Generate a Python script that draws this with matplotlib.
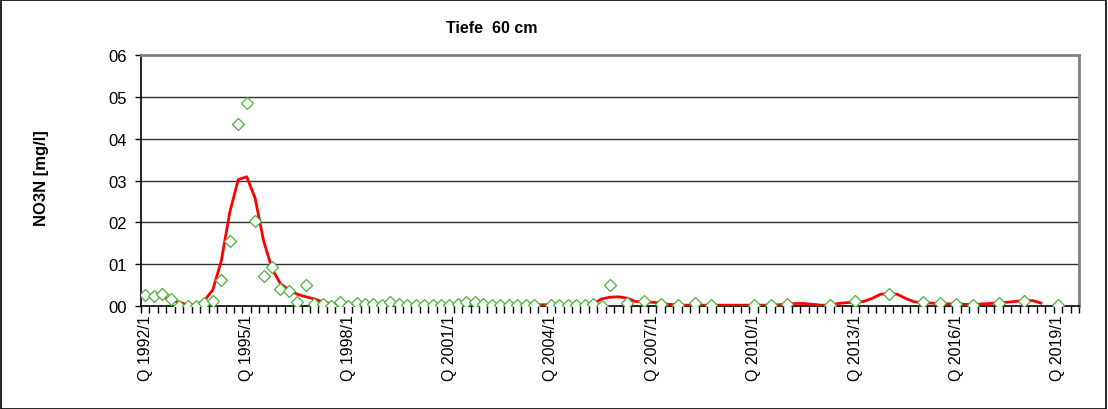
import numpy as np
import matplotlib
matplotlib.use("Agg")
import matplotlib.pyplot as plt
from matplotlib.patches import Rectangle

plt.rcParams['font.family'] = ['Liberation Sans', 'DejaVu Sans']

# Quartale 1992/1 .. 2019/3
quartale = [f"{j}/{q}" for j in range(1992, 2020) for q in range(1, 5)][:111]

# Messwerte NO3N [mg/l] (None = kein Wert)
mess = [0.026, 0.025, 0.029, 0.017, 0.001, 0.001, 0.001, 0.006, 0.011, 0.061,
        0.156, 0.436, 0.485, 0.203, 0.071, 0.094, 0.041, 0.035, 0.009, 0.051,
        0.005, 0.005, 0.001, 0.009, 0.001, 0.007, 0.005, 0.005, 0.003, 0.010,
        0.005, 0.003, 0.003, 0.003, 0.003, 0.003, 0.003, 0.005, 0.010, 0.010,
        0.005, 0.003, 0.003, 0.003, 0.003, 0.002, 0.002, None, 0.002, 0.002,
        0.002, 0.002, 0.002, 0.005, 0.001, 0.050, None, 0.006, None, 0.013,
        None, 0.004, None, 0.002, None, 0.006, None, 0.002, None, None,
        None, None, 0.002, None, 0.002, None, 0.005, None, None, None,
        None, 0.002, None, None, 0.011, None, None, None, 0.028, None,
        None, None, 0.009, None, 0.006, None, 0.004, None, 0.002, None,
        None, 0.006, None, None, 0.011, None, None, None, 0.002, None, None]

# geglaettete Kurve
trend = [None, None, 0.024, 0.014, 0.009, 0.003, 0.003, 0.013, 0.039, 0.108,
         0.224, 0.302, 0.309, 0.258, 0.156, 0.089, 0.053, 0.039, 0.028, 0.022,
         0.017, 0.010, 0.005, 0.004, 0.003, 0.003, 0.003, 0.003, 0.003, 0.003,
         0.003, 0.003, 0.003, 0.003, 0.003, 0.003, 0.003, 0.003, 0.003, 0.003,
         0.003, 0.003, 0.003, 0.003, 0.003, 0.003, 0.003, 0.003, 0.003, 0.003,
         0.003, 0.003, 0.003, 0.005, 0.017, 0.021, 0.022, 0.019, 0.011, 0.010,
         0.009, 0.007, 0.004, 0.003, 0.002, 0.002, 0.002, 0.002, 0.002, 0.002,
         0.002, 0.002, 0.002, 0.002, 0.002, 0.003, 0.005, 0.006, 0.006, 0.004,
         0.002, 0.002, 0.006, 0.008, 0.009, 0.011, 0.018, 0.028, 0.030, 0.028,
         0.018, 0.010, 0.008, 0.007, 0.006, 0.005, 0.005, 0.004, 0.003, 0.005,
         0.006, 0.008, 0.009, 0.011, 0.013, 0.013, 0.007, None, None, None, None]

y_ticks = [0.0, 0.1, 0.2, 0.3, 0.4, 0.5, 0.6]
y_labels = ["00", "01", "02", "03", "04", "05", "06"]

mess = np.array(mess, dtype=float)
trend = np.array(trend, dtype=float)
x = np.arange(len(quartale))

fig = plt.figure(figsize=(11.08, 4.10), dpi=100)
ax = fig.add_axes([0.1273, 0.2512, 0.9738 - 0.1273, 0.8634 - 0.2512])

for yv in y_ticks[1:-1]:
    ax.axhline(yv, color='#303030', lw=1.0, zorder=1)

ax.plot(x, trend, color='#ff0000', lw=2.0, zorder=3)
ax.plot(x, mess, ls='none', marker='D', ms=6, mfc='white', mec='#4caf3c',
        mew=0.9, zorder=4)

ax.set_xlim(-0.5, len(quartale) - 0.5)
ax.set_ylim(0, 0.6)

ax.set_yticks(y_ticks)
ax.set_yticklabels(y_labels, fontsize=12)
ax.tick_params(axis='y', direction='out', length=4, width=1, pad=6)

ax.set_xticks(x[::12])
ax.set_xticklabels(["Q " + quartale[i] for i in x[::12]], rotation=90,
                   fontsize=11.5)
ax.set_xticks(np.arange(-0.5, len(quartale), 1), minor=True)
ax.tick_params(axis='x', which='major', length=0, pad=6)
ax.tick_params(axis='x', which='minor', direction='out', length=5, width=1)

for s in ['left', 'bottom']:
    ax.spines[s].set_color('black')
    ax.spines[s].set_linewidth(1.2)
for s in ['top', 'right']:
    ax.spines[s].set_color('#808080')
    ax.spines[s].set_linewidth(2.0)

ax.set_ylabel("NO3N [mg/l]", fontsize=12, fontweight='bold')
ax.yaxis.set_label_coords(-0.098, 0.515)
fig.text(0.4435, 0.93, "Tiefe  60 cm", fontsize=11.5, fontweight='bold',
         ha='center', va='center')

fig.patches.append(Rectangle((0.0005, 0.001), 0.998, 0.997, transform=fig.transFigure,
                             fill=False, ec='black', lw=1.2))

fig.savefig("out.png", dpi=100)
